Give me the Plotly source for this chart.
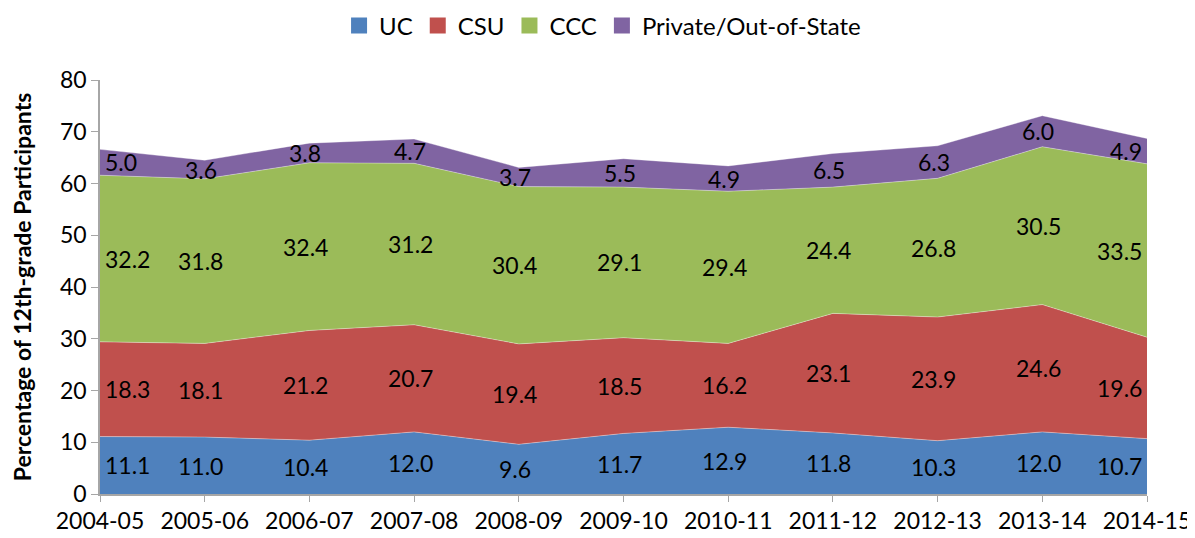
import plotly.graph_objects as go

years = ["2004-05", "2005-06", "2006-07", "2007-08", "2008-09", "2009-10",
         "2010-11", "2011-12", "2012-13", "2013-14", "2014-15"]
uc = [11.1, 11.0, 10.4, 12.0, 9.6, 11.7, 12.9, 11.8, 10.3, 12.0, 10.7]
csu = [18.3, 18.1, 21.2, 20.7, 19.4, 18.5, 16.2, 23.1, 23.9, 24.6, 19.6]
ccc = [32.2, 31.8, 32.4, 31.2, 30.4, 29.1, 29.4, 24.4, 26.8, 30.5, 33.5]
private = [5.0, 3.6, 3.8, 4.7, 3.7, 5.5, 4.9, 6.5, 6.3, 6.0, 4.9]

series = [("UC", uc, "#4F81BD"), ("CSU", csu, "#C0504D"),
          ("CCC", ccc, "#9BBB59"), ("Private/Out-of-State", private, "#8064A2")]

FONT = "Lato, 'Open Sans', sans-serif"
FS = 23

fig = go.Figure()
base = [0.0] * len(years)
annotations = []
for name, vals, color in series:
    fig.add_trace(go.Scatter(
        x=years, y=vals, name=name, mode="lines", stackgroup="one",
        line=dict(width=0.6, color="rgba(255,255,255,0.6)"),
        fillcolor=color, hoverinfo="x+y+name", showlegend=False,
    ))
    # legend entry with square swatch
    fig.add_trace(go.Scatter(x=[None], y=[None], name=name, mode="markers",
                             marker=dict(symbol="square", size=16, color=color),
                             showlegend=True, hoverinfo="skip"))
    for i, (y, v) in enumerate(zip(years, vals)):
        mid = base[i] + v / 2
        if i == 0:
            xa, xs = "left", 3
        elif i == len(years) - 1:
            xa, xs = "right", -3
        else:
            xa, xs = "center", -4
        annotations.append(dict(
            x=y, y=mid, xref="x", yref="y", text=f"{v:.1f}", showarrow=False,
            xanchor=xa, xshift=xs, font=dict(size=FS, color="#000", family=FONT),
        ))
    base = [b + v for b, v in zip(base, vals)]

fig.update_layout(
    width=1187, height=530,
    margin=dict(l=92, r=48, t=72, b=44, autoexpand=False),
    paper_bgcolor="white", plot_bgcolor="white",
    font=dict(family=FONT, size=FS, color="#000"),
    showlegend=True,
    legend=dict(orientation="h", x=0.48, xanchor="center", y=0.966, yref="container",
                yanchor="middle", font=dict(size=24, family=FONT),
                traceorder="normal", itemwidth=30, tracegroupgap=0),
    annotations=annotations,
    xaxis=dict(type="category", range=[0, len(years) - 1], showgrid=False,
               showline=True, linecolor="#A6A6A6", linewidth=1.5,
               ticks="outside", ticklen=6, tickcolor="#A6A6A6", automargin=False,
               tickfont=dict(size=FS, family=FONT), fixedrange=True),
    yaxis=dict(range=[0, 80], dtick=10, showgrid=False, zeroline=False,
               showline=True, linecolor="#A6A6A6", linewidth=1.5,
               ticks="outside", ticklen=7, tickcolor="#A6A6A6", automargin=False,
               tickfont=dict(size=FS, family=FONT),
               title=dict(text="<b>Percentage of 12th-grade Participants</b>",
                          font=dict(size=FS, family=FONT), standoff=27)),
)

fig.write_html("out.html")
